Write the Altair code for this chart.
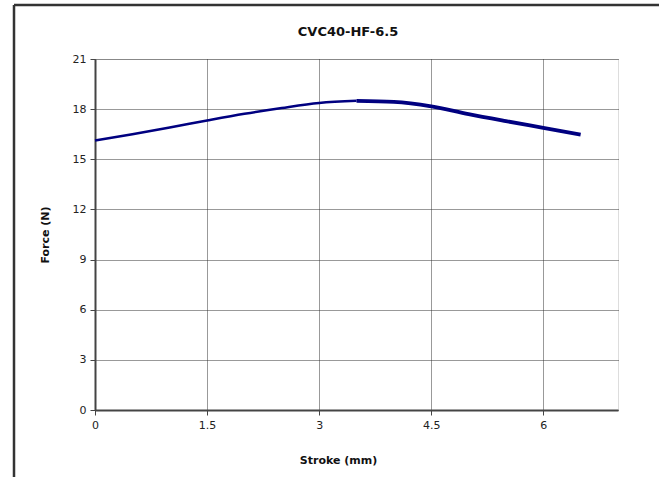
import altair as alt
import pandas as pd

stroke = [0, 0.5, 1.0, 1.5, 2.0, 2.5, 3.0, 3.5, 4.0, 4.5, 5.0, 5.5, 6.0, 6.5]
force = [16.12, 16.5, 16.9, 17.32, 17.72, 18.07, 18.37, 18.50, 18.44, 18.17, 17.70, 17.28, 16.88, 16.48]
chart_title = "CVC40-HF-6.5"

df = pd.DataFrame({"stroke": stroke, "force": force})
df_a = df.iloc[:8]
df_b = df.iloc[7:]

FONT = "DejaVu Sans"
W, H = 523, 351
PL, PT = 95, 59

xscale = alt.Scale(domain=[0, 7], nice=False, zero=False)
yscale = alt.Scale(domain=[0, 21], nice=False)

xaxis = alt.Axis(values=[0, 1.5, 3, 4.5, 6], format="~g", grid=True, labelFlush=False,
                 gridDash=[1, 1], gridColor="#333", gridWidth=1,
                 domainColor="#444", domainWidth=2, tickColor="#444", tickSize=5,
                 labelFont=FONT, labelFontSize=11, labelColor="#222", labelPadding=4,
                 title="Stroke (mm)", titleFont=FONT, titleFontSize=11, titleFontWeight="bold",
                 titleColor="#111", titleX=243, titleY=50, titleBaseline="middle")
yaxis = alt.Axis(values=[0, 3, 6, 9, 12, 15, 18, 21], format="~g", grid=True,
                 gridDash=[1, 1], gridColor="#333", gridWidth=1,
                 domainColor="#444", domainWidth=2, tickColor="#444", tickSize=5,
                 labelFont=FONT, labelFontSize=11, labelColor="#222", labelPadding=4,
                 title="Force (N)", titleFont=FONT, titleFontSize=11, titleFontWeight="bold",
                 titleColor="#111", titleX=-50, titleY=H / 2, titleBaseline="middle",
                 titleAngle=270, titleAlign="center")

line_a = alt.Chart(df_a).mark_line(color="#000080", strokeWidth=2.5, interpolate="monotone").encode(
    x=alt.X("stroke:Q", scale=xscale, axis=xaxis),
    y=alt.Y("force:Q", scale=yscale, axis=yaxis),
)
line_b = alt.Chart(df_b).mark_line(color="#000080", strokeWidth=3.8, interpolate="monotone").encode(
    x=alt.X("stroke:Q", scale=xscale),
    y=alt.Y("force:Q", scale=yscale),
)

frame_left = alt.Chart(df.iloc[:1]).mark_rule(color="#333", strokeWidth=2.5).encode(
    x=alt.value(14 - PL), y=alt.value(5 - PT), y2=alt.value(477 - PT + 10))
frame_top = alt.Chart(df.iloc[:1]).mark_rule(color="#333", strokeWidth=2.5).encode(
    x=alt.value(14 - PL), x2=alt.value(659 - PL + 10), y=alt.value(5 - PT))

title_text = alt.Chart(pd.DataFrame({"t": [chart_title]})).mark_text(
    font=FONT, fontSize=13, fontWeight="bold", color="#111", align="center", baseline="middle"
).encode(text="t:N", x=alt.value(348 - PL), y=alt.value(32 - PT))

chart = alt.layer(line_a, line_b, frame_left, frame_top, title_text).properties(
    width=W, height=H,
    autosize=alt.AutoSizeParams(type="none"),
    padding={"left": PL, "top": PT, "right": 659 - PL - W, "bottom": 477 - PT - H},
).configure_view(stroke="#999", strokeWidth=1.5).configure(background="white")

chart.save("out.html", embed_options={"renderer": "svg", "actions": False})
